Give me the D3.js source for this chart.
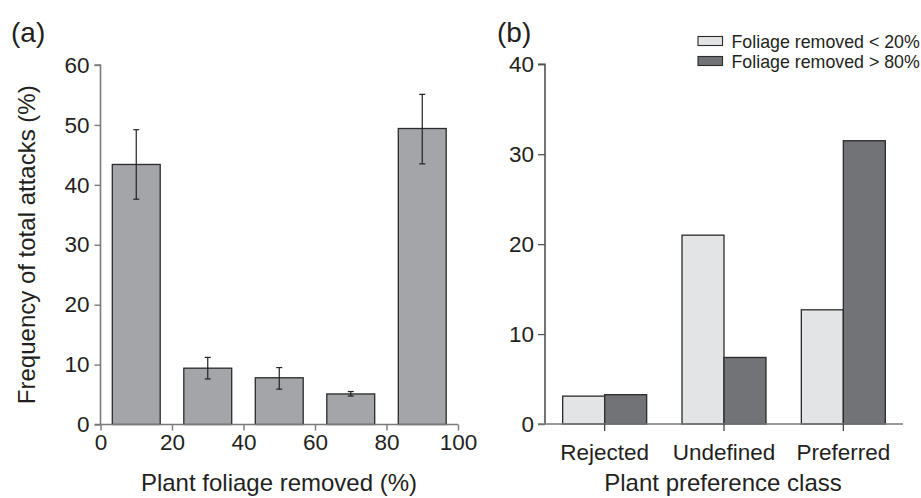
<!DOCTYPE html>
<html><head><meta charset="utf-8">
<script src="https://cdn.jsdelivr.net/npm/d3@7"></script>
<style>body{margin:0;background:#fff}svg{display:block}text{font-family:"Liberation Sans",Arial,sans-serif;fill:#231f20}</style>
</head><body><svg id="c" width="921" height="498"></svg>
<script>
// Panel (a)
const foliageMid = [10, 30, 50, 70, 90];
const attackFreq = [43.4, 9.4, 7.8, 5.1, 49.4];
const errHigh = [49.2, 11.2, 9.5, 5.5, 55.1];
const errLow = [37.6, 7.6, 5.9, 4.75, 43.5];
const xTicksA = [0, 20, 40, 60, 80, 100];
const yTicksA = [0, 10, 20, 30, 40, 50, 60];
// Panel (b)
const prefClasses = ["Rejected", "Undefined", "Preferred"];
const seriesNames = ["Foliage removed < 20%", "Foliage removed > 80%"];
const low20 = [3.1, 21.0, 12.7];
const high80 = [3.26, 7.4, 31.5];
const yTicksB = [0, 10, 20, 30, 40];

const svg = d3.select("#c");
const axisGray = "#7a7a7a";
const tickFont = "22.5px";
const titleFont = "24px";

// ---- Panel A ----
const xA = d3.scaleLinear().domain([0, 100]).range([100.5, 458]);
const yA = d3.scaleLinear().domain([0, 60]).range([424.5, 65]);
const gA = svg.append("g");
const barW = xA(13.4) - xA(0);
gA.selectAll("rect.bar").data(foliageMid).join("rect")
  .attr("x", (d) => xA(d) - barW / 2).attr("width", barW)
  .attr("y", (d, i) => yA(attackFreq[i])).attr("height", (d, i) => yA(0) - yA(attackFreq[i]))
  .attr("fill", "#a4a5a9").attr("stroke", "#2b2b2b").attr("stroke-width", 1.3);
// error bars
const eb = gA.selectAll("g.eb").data(foliageMid).join("g");
eb.append("line").attr("x1", d => xA(d)).attr("x2", d => xA(d))
  .attr("y1", (d, i) => yA(errHigh[i])).attr("y2", (d, i) => yA(errLow[i]))
  .attr("stroke", "#222").attr("stroke-width", 1.2);
eb.append("line").attr("x1", d => xA(d) - 3).attr("x2", d => xA(d) + 3)
  .attr("y1", (d, i) => yA(errHigh[i])).attr("y2", (d, i) => yA(errHigh[i]))
  .attr("stroke", "#222").attr("stroke-width", 1.2);
eb.append("line").attr("x1", d => xA(d) - 3).attr("x2", d => xA(d) + 3)
  .attr("y1", (d, i) => yA(errLow[i])).attr("y2", (d, i) => yA(errLow[i]))
  .attr("stroke", "#222").attr("stroke-width", 1.2);

const yAxisA = gA.append("g").attr("transform", `translate(${xA(0)},0)`)
  .call(d3.axisLeft(yA).tickValues(yTicksA).tickSize(6).tickPadding(5));
const xAxisA = gA.append("g").attr("transform", `translate(0,${yA(0)})`)
  .call(d3.axisBottom(xA).tickValues(xTicksA).tickSize(6).tickPadding(4).tickSizeOuter(0));
[yAxisA, xAxisA].forEach(a => {
  a.select(".domain").attr("stroke", axisGray).attr("stroke-width", 1.6);
  a.selectAll(".tick line").attr("stroke", axisGray).attr("stroke-width", 1.4);
  a.selectAll("text").style("font-size", tickFont).attr("fill", "#231f20");
});
yAxisA.select(".domain").attr("d", `M-6,${yA(60)}H0V${yA(0)}`);
xAxisA.select(".domain").attr("d", `M${xA(0)-6},0H${xA(100)}`);

gA.append("text").attr("x", 11).attr("y", 42).text("(a)").style("font-size", "28px");
gA.append("text").attr("transform", `translate(35,${(yA(0)+yA(60))/2}) rotate(-90)`)
  .attr("text-anchor", "middle").text("Frequency of total attacks (%)").style("font-size", titleFont);
gA.append("text").attr("x", 279).attr("y", 491).attr("text-anchor", "middle")
  .text("Plant foliage removed (%)").style("font-size", titleFont);

// ---- Panel B ----
const xB = d3.scaleBand().domain(prefClasses).range([545, 903]).paddingInner(0).paddingOuter(0);
const yB = d3.scaleLinear().domain([0, 40]).range([424, 64.3]);
const xSub = d3.scaleBand().domain(seriesNames).range([-42, 42]);
const colors = ["#e3e4e5", "#727377"];
const gB = svg.append("g");
const seriesVals = [low20, high80];
seriesNames.forEach((s, si) => {
  gB.selectAll(`rect.s${si}`).data(prefClasses).join("rect")
    .attr("x", d => xB(d) + xB.bandwidth() / 2 + xSub(s)).attr("width", xSub.bandwidth())
    .attr("y", (d, i) => yB(seriesVals[si][i])).attr("height", (d, i) => yB(0) - yB(seriesVals[si][i]))
    .attr("fill", colors[si]).attr("stroke", "#2b2b2b").attr("stroke-width", 1.3);
});
const yAxisB = gB.append("g").attr("transform", `translate(545,0)`)
  .call(d3.axisLeft(yB).tickValues(yTicksB).tickSize(7).tickPadding(4));
const xAxisB = gB.append("g").attr("transform", `translate(0,${yB(0)})`)
  .call(d3.axisBottom(xB).tickSize(7).tickPadding(13).tickSizeOuter(0));
yAxisB.select(".domain").attr("stroke", "#3a3a3a").attr("stroke-width", 1.4).attr("d", `M-7,${yB(40)}H0V${yB(0)}`);
yAxisB.selectAll(".tick line").attr("stroke", "#555").attr("stroke-width", 1.3);
xAxisB.select(".domain").attr("stroke", axisGray).attr("stroke-width", 1.6).attr("d", `M538,0H903`);
xAxisB.selectAll(".tick line").attr("stroke", "#444").attr("stroke-width", 1.3);
[yAxisB, xAxisB].forEach(a => a.selectAll("text").style("font-size", tickFont).attr("fill", "#231f20"));

gB.append("text").attr("x", 497).attr("y", 42).text("(b)").style("font-size", "28px");
gB.append("text").attr("x", 723).attr("y", 491).attr("text-anchor", "middle")
  .text("Plant preference class").style("font-size", titleFont);

// legend
const leg = gB.selectAll("g.leg").data(seriesNames).join("g")
  .attr("transform", (d, i) => `translate(698,${36.5 + i * 20})`);
leg.append("rect").attr("width", 24.5).attr("height", 9).attr("fill", (d, i) => colors[i])
  .attr("stroke", "#2b2b2b").attr("stroke-width", 1.1);
leg.append("text").attr("x", 33.5).attr("y", 11).text(d => d).style("font-size", "17.8px");
</script></body></html>
